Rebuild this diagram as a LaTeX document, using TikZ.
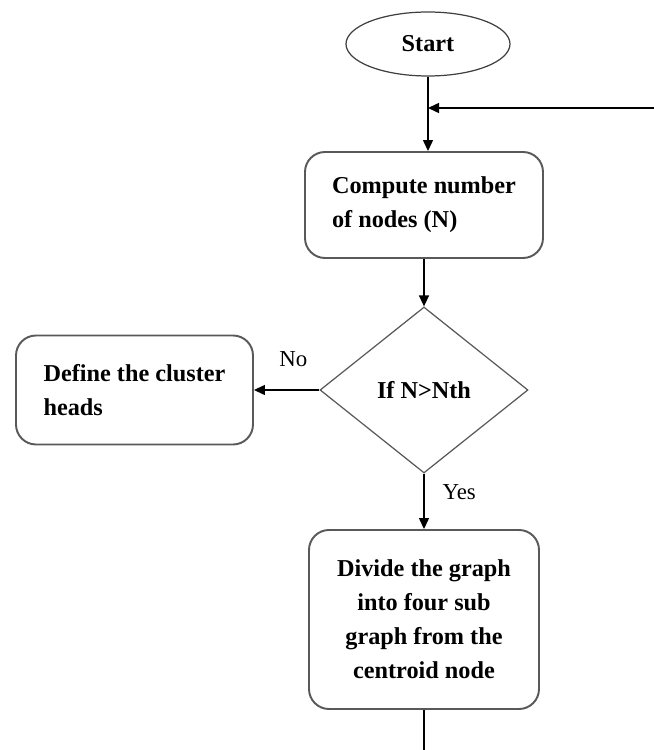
\documentclass[tikz,border=0pt]{standalone}
\usepackage{fontspec}
\setmainfont{Liberation Serif}
\usetikzlibrary{shapes.geometric, arrows.meta}

\begin{document}
\begin{tikzpicture}[
	>={Triangle[length=0.22cm, width=0.2cm]},
	every node/.style={font=\fontsize{13.8}{19.3}\selectfont\bfseries},
	startbox/.style={ellipse, draw=black!75, line width=0.7pt, minimum width=3.28cm, minimum height=1.28cm, inner sep=0pt},
	procbox/.style={rectangle, rounded corners=0.4cm, draw=black!65, line width=1.1pt, inner sep=0pt},
	decbox/.style={diamond, aspect=1.25, draw=black!65, line width=0.7pt, minimum width=4.16cm, minimum height=3.32cm, inner sep=0pt},
	flow/.style={->, line width=0.8pt},
	lbl/.style={font=\fontsize{13}{16}\selectfont}
	]
	\useasboundingbox (0, 0) rectangle (13.08, 15);
	\node[startbox] (start) at (8.56, 14.12) {Start};
	\node[procbox, align=left, minimum width=4.76cm, minimum height=2.12cm] (count) at (8.48, 10.9) {Compute number\\of nodes (N)};
	\node[decbox] (test) at (8.48, 7.2) {If N>Nth};
	\node[procbox, align=left, minimum width=4.74cm, minimum height=2.18cm] (heads) at (2.69, 7.2) {Define the cluster\\heads};
	\node[procbox, align=center, minimum width=4.6cm, minimum height=3.58cm] (divide) at (8.48, 2.61) {Divide the graph\\into four sub\\graph from the\\centroid node};
	\coordinate (back) at (13.08, 12.84);
	\coordinate (next) at (8.48, 0);

	\draw[flow] (start) -- (start |- count.north);
	\draw[flow] (back) -- (back -| start);
	\draw[flow] (count) -- (test);
	\draw[flow] (test) -- node[lbl, pos=0.4, above=0.34cm] (no) {No} (heads);
	\draw[flow] (test) -- node[lbl, pos=0.34, right=0.24cm] (yes) {Yes} (divide);
	\draw[line width=0.8pt] (divide) -- (next);
\end{tikzpicture}
\end{document}
